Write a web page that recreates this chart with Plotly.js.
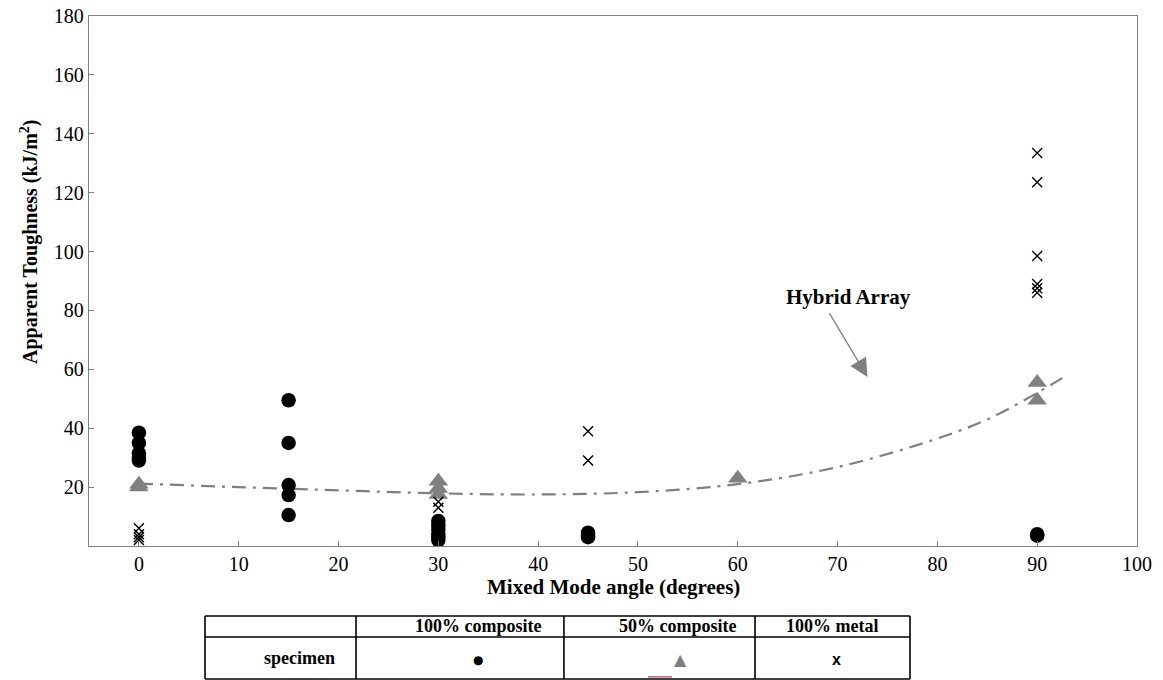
<!DOCTYPE html>
<html>
<head>
<meta charset="utf-8">
<script src="https://cdn.plot.ly/plotly-3.0.1.min.js"></script>
<style>html,body{margin:0;padding:0;background:#fff;}#chart{width:1163px;height:680px;}</style>
</head>
<body>
<div id="chart"></div>
<script>
// ---- data ----
const comp100X = [0, 0, 0, 0, 0, 15, 15, 15, 15, 15, 30, 30, 30, 30, 30, 30, 45, 45, 45, 90, 90];
const comp100Y = [38.5, 35, 31.5, 30, 29, 49.5, 35, 20.7, 17.3, 10.5, 8.5, 7, 5.5, 4, 3, 2, 4.5, 3.5, 3, 4, 3.5];
const comp50X = [0, 0, 30, 30, 30, 60, 90, 90];
const comp50Y = [21, 20, 22, 19.5, 17.5, 23, 55.5, 49.5];
const metalX = [0, 0, 0, 0, 30, 30, 45, 45, 90, 90, 90, 90, 90, 90];
const metalY = [6, 4, 3, 2, 15, 13, 39, 29, 133.5, 123.5, 98.5, 89, 87.5, 86];
const fitX = [0, 10, 20, 30, 40, 50, 60, 70, 80, 85, 90, 92.5];
const fitY = [21.2, 20.0, 18.9, 17.9, 17.5, 18.3, 21.0, 26.8, 36.5, 43, 52, 57];
const xTicks = [0, 10, 20, 30, 40, 50, 60, 70, 80, 90, 100];
const yTicks = [20, 40, 60, 80, 100, 120, 140, 160, 180];
const xTitle = "Mixed Mode angle (degrees)";
const yTitle = "Apparent Toughness (kJ/m<sup>2</sup>)";
const tableHeader = ["", "100% composite", "50% composite", "100% metal"];
const tableRowLabel = "specimen";
const tableSymbols = ["●", "▲", "x"];

const serif = "Liberation Serif";

const traces = [
  {x: fitX, y: fitY, mode: 'lines', type: 'scatter', line: {color: '#7f7f7f', width: 2.2, dash: '14px,7px,3px,7px', shape: 'spline'}, hoverinfo: 'skip'},
  {x: comp100X, y: comp100Y, mode: 'markers', type: 'scatter', marker: {symbol: 'circle', size: 14.5, color: '#000'}},
  {x: comp50X, y: comp50Y, mode: 'markers', type: 'scatter', marker: {symbol: 'triangle-up', size: 17, color: '#808080'}},
  {x: metalX, y: metalY, mode: 'markers', type: 'scatter', marker: {symbol: 'x-thin-open', size: 10, color: '#000', line: {color: '#000', width: 1.4}}}
];

// table geometry (paper coords)
const colX = [0.1107, 0.2548, 0.4532, 0.6355, 0.7834];
const rowY = [-0.132, -0.1717, -0.251];
const shapes = [];
rowY.forEach(y => shapes.push({type: 'line', xref: 'paper', yref: 'paper', x0: colX[0], x1: colX[4], y0: y, y1: y, line: {color: '#000', width: 1.6}}));
colX.forEach(x => shapes.push({type: 'line', xref: 'paper', yref: 'paper', x0: x, x1: x, y0: rowY[0], y1: rowY[2], line: {color: '#000', width: 1.6}}));
// small dark red underline in triangle cell
shapes.push({type: 'line', xref: 'paper', yref: 'paper', x0: 0.5334, x1: 0.5563, y0: -0.247, y1: -0.247, line: {color: '#8b1a2b', width: 1}});

const annotations = [];
const headerCx = [0.2013, 0.3712, 0.562, 0.709];
const midHead = (rowY[0] + rowY[1]) / 2;
const midBody = (rowY[1] + rowY[2]) / 2;
function ann(x, y, text, font, angle) {
  return {xref: 'paper', yref: 'paper', x: x, y: y, xanchor: 'center', yanchor: 'middle', text: text, showarrow: false, font: font, textangle: angle || 0};
}
for (let i = 1; i < 4; i++) {
  annotations.push(ann(headerCx[i], midHead, '<b>' + tableHeader[i] + '</b>', {family: serif, size: 18, color: '#000'}));
}
annotations.push(ann(0.2013, midBody, '<b>' + tableRowLabel + '</b>', {family: serif, size: 18, color: '#000'}));
annotations.push(ann(0.3712, midBody - 0.003, tableSymbols[0], {family: 'DejaVu Sans', size: 12, color: '#000'}));
annotations.push(ann(0.5645, midBody - 0.003, tableSymbols[1], {family: 'DejaVu Sans', size: 16, color: '#808080'}));
annotations.push(ann(0.7137, midBody - 0.002, '<b>' + tableSymbols[2] + '</b>', {family: 'Liberation Sans', size: 16, color: '#000'}));
// axis titles
annotations.push(ann(0.5, -0.0765, '<b>' + xTitle + '</b>', {family: serif, size: 21, color: '#000'}));
annotations.push(ann(-0.0563, 0.5755, '<b>' + yTitle + '</b>', {family: serif, size: 20, color: '#000'}, -90));
// Hybrid Array label + arrow
annotations.push({x: 71.1, y: 84.5, text: '<b>Hybrid Array</b>', showarrow: false, font: {family: serif, size: 21, color: '#000'}});
annotations.push({x: 73, y: 57.4, ax: 69.1, ay: 79.5, axref: 'x', ayref: 'y', text: '', showarrow: true, arrowhead: 2, arrowsize: 2.8, arrowwidth: 1.3, arrowcolor: '#808080'});

const layout = {
  width: 1163, height: 680,
  margin: {l: 89, r: 26, t: 16, b: 134},
  paper_bgcolor: '#fff', plot_bgcolor: '#fff',
  showlegend: false,
  xaxis: {
    range: [-5, 100], tickvals: xTicks, ticktext: xTicks.map(String),
    ticks: 'inside', ticklen: 5, tickcolor: '#808080', showgrid: false, zeroline: false,
    showline: true, linecolor: '#808080', linewidth: 1.2, mirror: true,
    tickfont: {family: serif, size: 20, color: '#000'}
  },
  yaxis: {
    range: [0, 180], tickvals: yTicks, ticktext: yTicks.map(String),
    ticks: 'inside', ticklen: 5, tickcolor: '#808080', showgrid: false, zeroline: false,
    showline: true, linecolor: '#808080', linewidth: 1.2, mirror: true,
    tickfont: {family: serif, size: 20, color: '#000'}
  },
  shapes: shapes,
  annotations: annotations
};

Plotly.newPlot('chart', traces.map(t => Object.assign({cliponaxis: false}, t)), layout, {displayModeBar: false, staticPlot: true});
</script>
</body>
</html>
